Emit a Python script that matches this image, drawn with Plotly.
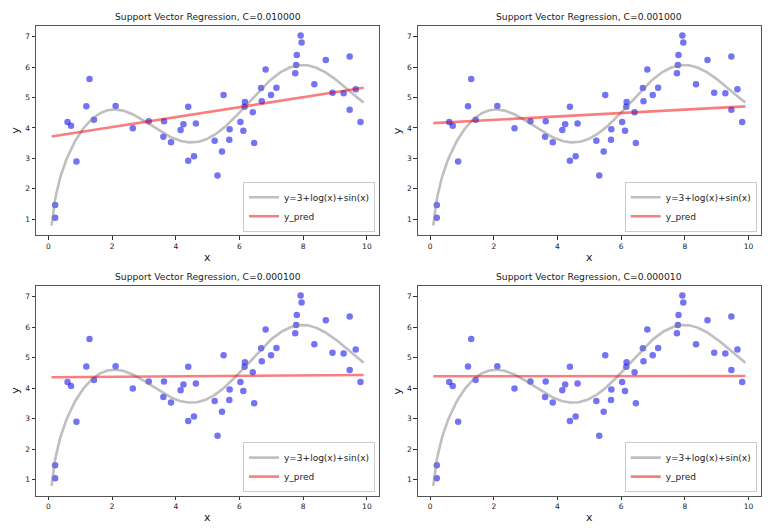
import numpy as np
import plotly.graph_objects as go

# ---- data ----
x_pts = [0.21, 0.21, 0.60, 0.71, 0.88, 1.19, 1.29, 1.43, 2.11,
         2.65, 3.15, 3.63, 3.61, 3.85, 4.15, 4.24, 4.39, 4.63, 4.39, 4.57, 5.22,
         5.31, 5.45, 5.50, 5.69, 5.68, 6.03, 6.12, 6.17, 6.16, 6.42, 6.46,
         6.68, 6.70, 6.82, 6.99, 7.16, 7.75, 7.80, 7.78, 7.92, 7.95,
         8.71, 8.35, 8.92, 9.27, 9.46, 9.65, 9.46, 9.80]
y_pts = [1.47, 1.05, 4.20, 4.07, 2.90, 4.71, 5.61, 4.27, 4.72,
         3.99, 4.22, 4.22, 3.71, 3.53, 3.93, 4.12, 4.70, 4.15, 2.92, 3.07, 3.58,
         2.44, 3.23, 5.08, 3.96, 3.61, 4.20, 3.91, 4.85, 4.70, 4.52, 3.51,
         5.31, 4.88, 5.92, 5.08, 5.32, 5.80, 6.40, 6.07, 7.04, 6.81,
         6.23, 5.44, 5.16, 5.14, 6.35, 5.27, 4.60, 4.20]

c_values = ["0.010000", "0.001000", "0.000100", "0.000010"]
line_x_range = [0.1, 9.9]
pred_left = [3.72, 4.16, 4.36, 4.39]
pred_right = [5.32, 4.71, 4.43, 4.40]

x_ticks = [0, 2, 4, 6, 8, 10]
y_ticks = [1, 2, 3, 4, 5, 6, 7]

curve_label = "y=3+log(x)+sin(x)"
pred_label = "y_pred"

# ---- layout geometry (pixels in a 783x530 figure) ----
W, H = 783, 530
col_px = [(36, 379.3), (417.7, 761)]
row_px = [(26, 235.3), (286, 495.7)]

FONT = "DejaVu Sans"
x_curve = np.linspace(line_x_range[0], line_x_range[1], 300)
y_curve = 3 + np.log(x_curve) + np.sin(x_curve)

fig = go.Figure()
annotations = []
layout_axes = {}

for i in range(4):
    r, c = divmod(i, 2)
    n = i + 1
    xa = "x" if n == 1 else f"x{n}"
    ya = "y" if n == 1 else f"y{n}"
    leg = "legend" if n == 1 else f"legend{n}"
    x0, x1 = col_px[c]
    top, bot = row_px[r]
    xdom = [x0 / W, x1 / W]
    ydom = [1 - bot / H, 1 - top / H]

    fig.add_trace(go.Scatter(
        x=x_pts, y=y_pts, mode="markers", xaxis=xa, yaxis=ya,
        marker=dict(size=6.5, color="rgba(0,0,235,0.55)", line=dict(width=0)),
        showlegend=False, hoverinfo="x+y"))
    fig.add_trace(go.Scatter(
        x=x_curve, y=y_curve, mode="lines", xaxis=xa, yaxis=ya,
        line=dict(color="rgba(128,128,128,0.5)", width=2.6),
        name=curve_label, legend=leg))
    fig.add_trace(go.Scatter(
        x=line_x_range, y=[pred_left[i], pred_right[i]], mode="lines",
        xaxis=xa, yaxis=ya,
        line=dict(color="rgba(240,0,0,0.5)", width=2.6),
        name=pred_label, legend=leg))

    axis_common = dict(showgrid=False, zeroline=False, showline=True,
                       mirror=True, linecolor="#555555", linewidth=1,
                       ticks="outside", ticklen=3.5, tickwidth=0.8,
                       tickcolor="#333333",
                       tickfont=dict(family=FONT, size=7.5, color="#222222"))
    layout_axes["xaxis" if n == 1 else f"xaxis{n}"] = dict(
        domain=xdom, range=[-0.39, 10.39], tickvals=x_ticks,
        anchor=ya, **axis_common)
    layout_axes["yaxis" if n == 1 else f"yaxis{n}"] = dict(
        domain=ydom, range=[0.475, 7.35], tickvals=y_ticks,
        anchor=xa, **axis_common)

    layout_axes[leg] = dict(
        x=(x1 - 4.3) / W, y=1 - (bot - 3.6) / H, xanchor="right",
        yanchor="bottom", bgcolor="rgba(255,255,255,0.8)",
        bordercolor="#cccccc", borderwidth=1,
        font=dict(family=FONT, size=9, color="#222222"),
        itemwidth=30, tracegroupgap=0)

    cx = (x0 + x1) / 2 / W
    annotations.append(dict(
        text=f"Support Vector Regression, C={c_values[i]}",
        x=cx, y=ydom[1], xref="paper", yref="paper", showarrow=False,
        xanchor="center", yanchor="bottom", yshift=2,
        font=dict(family=FONT, size=9.2, color="#222222")))
    annotations.append(dict(
        text="x", x=cx, y=ydom[0], xref="paper", yref="paper",
        showarrow=False, xanchor="center", yanchor="middle", yshift=-22,
        font=dict(family=FONT, size=11, color="#222222")))
    annotations.append(dict(
        text="y", x=(x0 - 20) / W, y=(ydom[0] + ydom[1]) / 2,
        xref="paper", yref="paper", showarrow=False, textangle=-90,
        xanchor="center", yanchor="middle",
        font=dict(family=FONT, size=11, color="#222222")))

fig.update_layout(
    width=W, height=H, margin=dict(l=0, r=0, t=0, b=0),
    paper_bgcolor="white", plot_bgcolor="white",
    annotations=annotations, **layout_axes)

fig.write_html(
    "out.html",
    config={"displayModeBar": False},
    post_script="document.body.style.margin='0';document.body.style.overflow='hidden';")
